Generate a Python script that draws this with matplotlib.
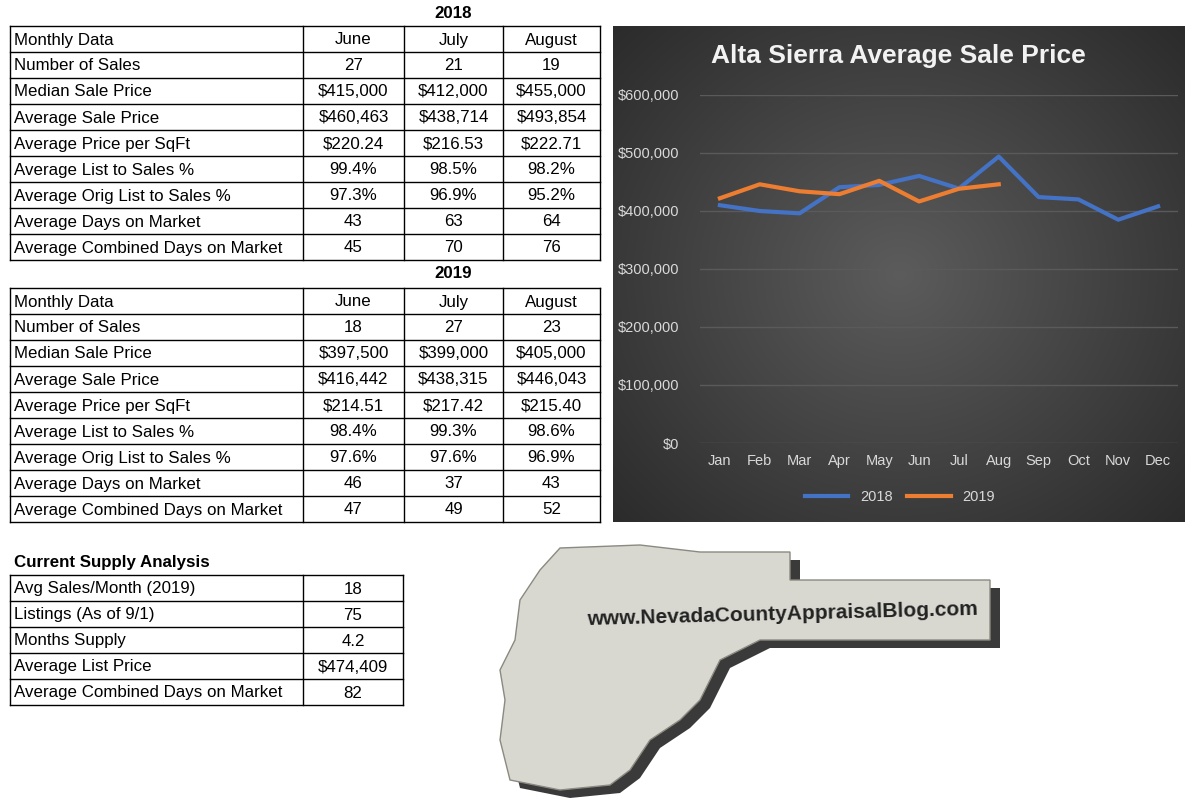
import matplotlib
matplotlib.use("Agg")
import matplotlib.pyplot as plt
import numpy as np
from matplotlib.patches import Polygon
from matplotlib.ticker import FuncFormatter

months = ["Jan","Feb","Mar","Apr","May","Jun","Jul","Aug","Sep","Oct","Nov","Dec"]
sales_2018 = [410000,400000,396000,441000,445000,460463,438714,493854,424000,420000,385000,408000]
sales_2019 = [422000,446000,434000,429000,452000,416442,438315,446043]

cols = ["Monthly Data","June","July","August"]
row_labels = ["Number of Sales","Median Sale Price","Average Sale Price","Average Price per SqFt",
              "Average List to Sales %","Average Orig List to Sales %","Average Days on Market",
              "Average Combined Days on Market"]
t2018 = [["27","21","19"],["$415,000","$412,000","$455,000"],["$460,463","$438,714","$493,854"],
         ["$220.24","$216.53","$222.71"],["99.4%","98.5%","98.2%"],["97.3%","96.9%","95.2%"],
         ["43","63","64"],["45","70","76"]]
t2019 = [["18","27","23"],["$397,500","$399,000","$405,000"],["$416,442","$438,315","$446,043"],
         ["$214.51","$217.42","$215.40"],["98.4%","99.3%","98.6%"],["97.6%","97.6%","96.9%"],
         ["46","37","43"],["47","49","52"]]
supply_labels = ["Avg Sales/Month (2019)","Listings (As of 9/1)","Months Supply","Average List Price",
                 "Average Combined Days on Market"]
supply_vals = ["18","75","4.2","$474,409","82"]

W, H = 1199, 798
fig = plt.figure(figsize=(W/100, H/100), dpi=100)
bg = fig.add_axes([0,0,1,1])
bg.set_xlim(0, W); bg.set_ylim(H, 0); bg.axis("off")
FONT = "Liberation Sans"
FS = 12.2

def table(x_edges, y0, rows, rh=26):
    n = len(rows)
    for i in range(n+1):
        bg.plot([x_edges[0], x_edges[-1]], [y0+i*rh]*2, color="black", lw=1)
    for x in x_edges:
        bg.plot([x, x], [y0, y0+n*rh], color="black", lw=1)
    for i, r in enumerate(rows):
        yc = y0 + i*rh + rh/2 + 1
        for j, v in enumerate(r):
            if j == 0:
                bg.text(x_edges[0]+4, yc, v, ha="left", va="center", fontsize=FS, family=FONT)
            else:
                bg.text((x_edges[j]+x_edges[j+1])/2, yc, v, ha="center", va="center", fontsize=FS, family=FONT)

xe = [10, 303, 404, 503, 600]
bg.text(453, 13, "2018", ha="center", va="center", fontsize=FS, weight="bold", family=FONT)
table(xe, 26, [cols] + [[l]+v for l, v in zip(row_labels, t2018)])
bg.text(453, 274, "2019", ha="center", va="center", fontsize=FS, weight="bold", family=FONT)
table(xe, 288, [cols] + [[l]+v for l, v in zip(row_labels, t2019)])
bg.text(14, 563, "Current Supply Analysis", ha="left", va="center", fontsize=FS, weight="bold", family=FONT)
table([10, 303, 403], 575, [[l, v] for l, v in zip(supply_labels, supply_vals)])

# logo
shape = [(560,548),(640,545),(700,552),(790,552),(790,580),(990,580),(990,640),(760,640),
         (720,660),(700,700),(680,720),(650,740),(630,770),(610,785),(560,790),(510,780),
         (500,740),(505,700),(500,670),(515,640),(520,600),(540,570)]
bg.add_patch(Polygon([(x+10, y+8) for x, y in shape], closed=True, fc="#3a3a3a", ec="none"))
bg.add_patch(Polygon(shape, closed=True, fc="#d8d7d0", ec="#8a8a80", lw=1))
bg.text(782, 614, "www.NevadaCountyAppraisalBlog.com", ha="center", va="center", fontsize=15,
        weight="bold", family="Liberation Sans", color="#222222", rotation=1.5)

# chart panel with radial gradient
yy, xx = np.mgrid[0:496, 0:572]
r = np.sqrt(((xx-286)/330.0)**2 + ((yy-248)/300.0)**2)
grad = np.clip(0.36 - 0.16*r, 0.17, 0.36)
bg.imshow(np.dstack([grad]*3), extent=(613, 1185, 522, 26), aspect="auto", zorder=0.5)
bg.set_xlim(0, W); bg.set_ylim(H, 0)

ax = fig.add_axes([700/W, 1-443/H, (1178-700)/W, (443-95)/H])
ax.set_facecolor("none")
x = range(12)
ax.plot(x, sales_2018, color="#4472c4", lw=3, label="2018")
ax.plot(range(len(sales_2019)), sales_2019, color="#ed7d31", lw=3, label="2019")
ax.set_ylim(0, 600000)
ax.set_xlim(-0.5, 11.5)
ax.set_yticks(range(0, 600001, 100000))
ax.yaxis.set_major_formatter(FuncFormatter(lambda v, p: "$0" if v == 0 else f"${int(v):,}"))
ax.grid(axis="y", color="#5a5a5a", lw=1)
ax.set_axisbelow(True)
for s in ax.spines.values():
    s.set_visible(False)
ax.tick_params(length=0, colors="#d9d9d9", labelsize=10.5)
ax.set_xticks(list(x)); ax.set_xticklabels(months)
ax.tick_params(axis="x", pad=8)
ax.tick_params(axis="y", pad=15)
for t in ax.get_yticklabels() + ax.get_xticklabels():
    t.set_family(FONT)
fig.text(898/W, 1-56/H, "Alta Sierra Average Sale Price", ha="center", va="center",
         fontsize=19, weight="bold", color="#f2f2f2", family="Liberation Sans")
leg = ax.legend(loc="center", bbox_to_anchor=(900/W, 1-497/H), bbox_transform=fig.transFigure,
                ncol=2, frameon=False, fontsize=10.5, handlelength=3, columnspacing=1.0)
for t in leg.get_texts():
    t.set_color("#d9d9d9"); t.set_family(FONT)

fig.savefig("out.png", dpi=100)
